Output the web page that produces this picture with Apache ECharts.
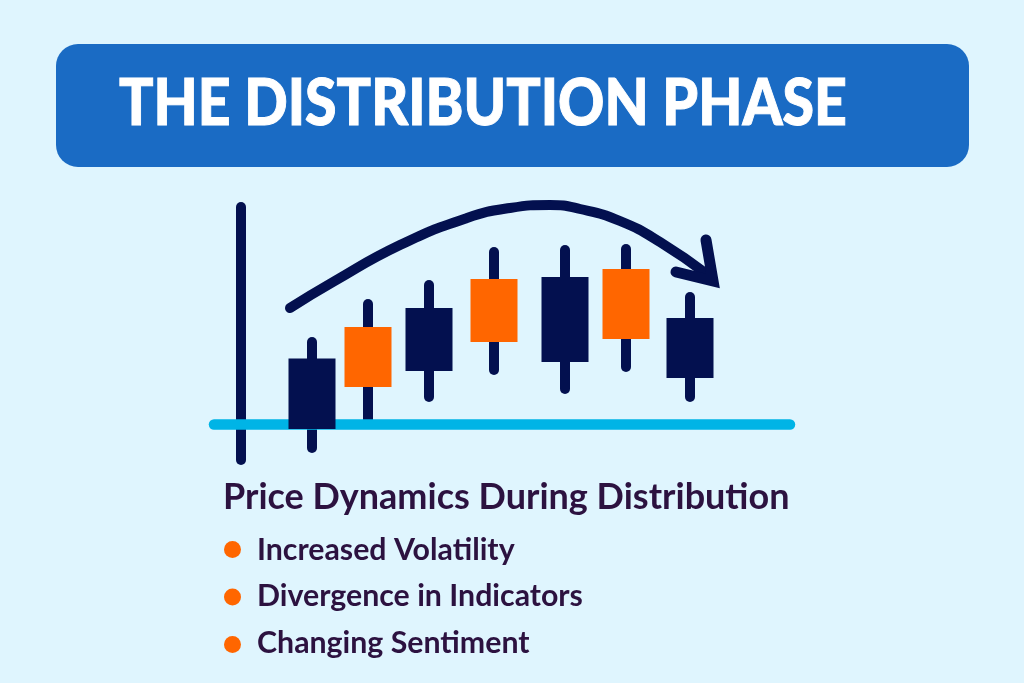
<!DOCTYPE html>
<html>
<head>
<meta charset="utf-8">
<title>The Distribution Phase</title>
<script src="https://cdn.jsdelivr.net/npm/echarts@6/dist/echarts.min.js"></script>
<style>
  html, body { margin: 0; padding: 0; background: #dff5fe; }
  #chart { width: 1024px; height: 683px; }
</style>
</head>
<body>
<div id="chart"></div>
<script>
// candles
var sessions = [7.1, 12.7, 18.8, 25.3, 32.4, 38.5, 44.9];
var opens  = [6.6, 3.75, 11.65, 8.25, 14.75, 8.55, 10.65];
var closes = [-0.45, 9.75, 5.35, 14.55, 6.25, 15.55, 4.65];
var lows   = [-2.35, 0.05, 2.75, 5.45, 3.55, 5.75, 2.75];
var highs  = [8.25, 12.05, 13.95, 17.25, 17.45, 17.55, 12.75];

// arrow over the candles
var trendX = [4.9, 9.2, 15.9, 22.6, 26.9, 30.9, 33.9, 37.9, 41.9, 46.7];
var trendY = [11.65, 14.25, 17.95, 20.65, 21.65, 21.95, 21.55, 20.35, 18.25, 14.95];
var headX = [46.5, 47.2, 43.5];
var headY = [18.45, 14.35, 15.25];

var titleText = 'THE DISTRIBUTION PHASE';
var headingText = 'Price Dynamics During Distribution';
var bullets = ['Increased Volatility', 'Divergence in Indicators', 'Changing Sentiment'];

var navy = '#03104f';
var orange = '#ff6600';
var cyan = '#00b4e6';
var ink = '#2c1240';

var candles = sessions.map(function (x, i) {
  return [x, opens[i], closes[i], lows[i], highs[i]];
});

function renderWick(params, api) {
  var top = api.coord([api.value(0), api.value(4)]);
  var bottom = api.coord([api.value(0), api.value(3)]);
  return {
    type: 'line',
    shape: { x1: top[0], y1: top[1], x2: bottom[0], y2: bottom[1] },
    style: { stroke: navy, lineWidth: 10, lineCap: 'round' }
  };
}

function renderBody(params, api) {
  var a = api.coord([api.value(0), api.value(1)]);
  var b = api.coord([api.value(0), api.value(2)]);
  return {
    type: 'rect',
    shape: { x: a[0] - 23.5, y: Math.min(a[1], b[1]), width: 47, height: Math.abs(a[1] - b[1]) },
    style: { fill: api.value(2) > api.value(1) ? orange : navy }
  };
}

var graphics = [
  { type: 'rect', left: 56, top: 44, z: -1, shape: { width: 913, height: 123, r: 22 }, style: { fill: '#1a6bc4' } },
  { type: 'text', x: 119, y: 72, scaleX: 0.88, style: { text: titleText, fill: '#fff', stroke: '#fff', lineWidth: 1, font: '900 65px Lato' } },
  { type: 'text', left: 223, top: 479, style: { text: headingText, fill: ink, font: '700 36px Lato' } }
];
bullets.forEach(function (label, i) {
  graphics.push({ type: 'circle', left: 224, top: 541 + i * 47.5, shape: { r: 8.5 }, style: { fill: orange } });
  graphics.push({ type: 'text', left: 257, top: 535 + i * 46.5, style: { text: label, fill: ink, font: '700 30.3px Lato' } });
});

var chart = echarts.init(document.getElementById('chart'));
chart.setOption({
  animation: false,
  backgroundColor: '#dff5fe',
  graphic: graphics,
  grid: { left: 214, right: 234, top: 207, bottom: 223 },
  xAxis: {
    type: 'value', min: -2.7, max: 54.9, z: 2,
    axisLine: { onZero: true, lineStyle: { color: cyan, width: 10.5, cap: 'round' } },
    axisTick: { show: false }, axisLabel: { show: false }, splitLine: { show: false }
  },
  yAxis: {
    type: 'value', min: -3.55, max: 21.75, z: 0,
    axisLine: { show: true, onZero: true, lineStyle: { color: navy, width: 10, cap: 'round' } },
    axisTick: { show: false }, axisLabel: { show: false }, splitLine: { show: false }
  },
  series: [
    { type: 'custom', z: 1, data: candles, renderItem: renderWick, clip: false },
    { type: 'custom', z: 3, data: candles, renderItem: renderBody, clip: false },
    {
      type: 'line', z: 4, smooth: 0.5, symbol: 'none', clip: false,
      data: trendX.map(function (x, i) { return [x, trendY[i]]; }),
      lineStyle: { color: navy, width: 10, cap: 'round' }
    },
    {
      type: 'line', z: 4, symbol: 'none', clip: false,
      data: headX.map(function (x, i) { return [x, headY[i]]; }),
      lineStyle: { color: navy, width: 11, cap: 'round', join: 'miter' }
    }
  ]
});
</script>
</body>
</html>
